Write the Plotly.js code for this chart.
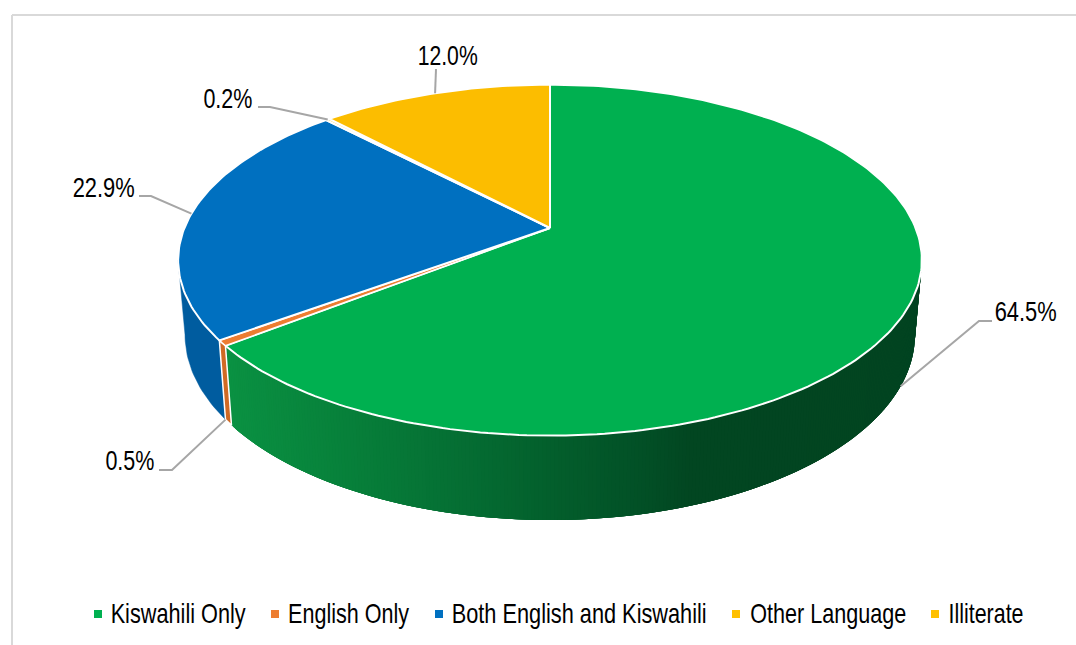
<!DOCTYPE html>
<html><head><meta charset="utf-8">
<script src="https://cdn.plot.ly/plotly-3.0.1.min.js"></script>
<style>html,body{margin:0;padding:0;background:#fff;overflow:hidden}#c{width:1076px;height:645px}</style>
</head><body><div id="c"></div>
<script>
const categories = ["Kiswahili Only","English Only","Both English and Kiswahili","Other Language","Illiterate"];
const values = [64.5,0.5,22.9,0.2,12.0];
const labels = ["64.5%","0.5%","22.9%","0.2%","12.0%"];
const colors = ["#00b050","#ed7d31","#0070c0","#ffc000","#fcbd00"];
const legendColors = ["#00b050","#ed7d31","#0070c0","#ffc000","#ffc000"];

// layout of the drawing, in pixels
const legendMarkerX = [98,275,439,736,935];
const legendTextX = [177.5,348,579,827.5,986];
const legendTextW = [135,121,255,156,75];
const legendMarkerY = 614;
const legendTextY = 613;
const labelX = [1025,130,103,228,447];
const labelW = [62,49,62,49,60];
const labelY = [311,460,187,98,55];
const elbowX = [979,172,151,270,436];
const elbowY = [321,470,196,107,69];
const stubX = [992,159,139,258,436];
const FONT = '"Liberation Sans",Arial,sans-serif';
const FONT_SIZE = 28;
const k = 0.1829;
const cx = 550;
const topDisc = {y:228,a:169.6,b:365.6};
const botDisc = {y:301,a:179,b:358.8};
const shadeX = [233,350,450,550,640,690,921];
const shadeR = [10,7,5,3,2,2,2];
const shadeG = [145,128,112,95,80,70,68];
const shadeB = [66,58,52,44,38,33,32];

const total = values.reduce((a,b)=>a+b,0);
function pt(d,deg){const t=deg*Math.PI/180,u=Math.sin(t),v=Math.cos(t),w=1+k*v;return [cx+d.b*u/w,d.y-d.a*v/w];}
function arc(d,a0,a1){const n=Math.max(2,Math.ceil(Math.abs(a1-a0)));const r=[];for(let i=0;i<=n;i++)r.push(pt(d,a0+(a1-a0)*i/n));return r;}
function poly(points,fill,lineColor,lineWidth){
  const c=points.concat([points[0]]);
  return {type:'scatter',mode:'lines',x:c.map(p=>p[0]),y:c.map(p=>p[1]),fill:'toself',fillcolor:fill,
    line:{color:lineColor,width:lineWidth},hoverinfo:'skip',showlegend:false};
}
function interp(xs,ys,x){if(x<=xs[0])return ys[0];for(let i=1;i<xs.length;i++)if(x<=xs[i])return ys[i-1]+(ys[i]-ys[i-1])*(x-xs[i-1])/(xs[i]-xs[i-1]);return ys[ys.length-1];}

const starts=[];let cum=0;
values.forEach(v=>{starts.push(cum/total*360);cum+=v;});
const ends=starts.map((s,i)=>s+values[i]/total*360);
const tanR=(Math.acos(-k))*180/Math.PI, tanL=360-tanR;

const traces=[];
// wall: green strips, each overlapping the next so no seams show
for(let a=ends[0];a>tanR;a-=0.5){
  const a2=Math.max(tanR,a-2);
  const p=arc(botDisc,a,a2).concat(arc(topDisc,a2,a));
  const b0=pt(botDisc,a), b1=pt(botDisc,a-0.5);
  const x=(b0[0]+b1[0])/2;
  const col=`rgb(${Math.round(interp(shadeX,shadeR,x))},${Math.round(interp(shadeX,shadeG,x))},${Math.round(interp(shadeX,shadeB,x))})`;
  traces.push(poly(p,col,col,0));
}
// wall: blue
traces.push(poly(arc(botDisc,starts[2],tanL).concat(arc(topDisc,tanL,starts[2])),"#005c9f","#005c9f",0.5));
// wall: orange
traces.push(poly(arc(botDisc,starts[1],ends[1]).concat(arc(topDisc,ends[1],starts[1])),"#d06a24","#ffffff",1.5));
// top faces
values.forEach((v,i)=>{
  const p=[[cx,topDisc.y]].concat(arc(topDisc,starts[i],ends[i]));
  traces.push(poly(p,colors[i],"#ffffff",i===1?1.5:2));
});
// leader lines, anchored on the slices
const mid=starts.map((s,i)=>(s+ends[i])/2);
const anchors=[pt(botDisc,mid[0]),pt(botDisc,ends[1]),pt(topDisc,mid[2]),pt(topDisc,mid[3]),pt(topDisc,mid[4])];
values.forEach((v,i)=>{
  traces.push({type:'scatter',mode:'lines',x:[stubX[i],elbowX[i],anchors[i][0]],y:[elbowY[i],elbowY[i],anchors[i][1]],
    line:{color:'#a6a6a6',width:2},hoverinfo:'skip',showlegend:false});
});
// legend markers
traces.push({type:'scatter',mode:'markers',x:legendMarkerX,y:legendMarkerX.map(()=>legendMarkerY),
  marker:{symbol:'square',size:8,color:legendColors,line:{width:0}},hoverinfo:'skip',showlegend:false});

const annotations=[];
const widths=[];
labels.forEach((t,i)=>{widths.push(labelW[i]);annotations.push({x:labelX[i],y:labelY[i],xref:'x',yref:'y',text:t,showarrow:false,
  xanchor:'center',yanchor:'middle',font:{family:FONT,size:FONT_SIZE,color:'#000'},borderpad:0,borderwidth:0});});
categories.forEach((t,i)=>{widths.push(legendTextW[i]);annotations.push({x:legendTextX[i],y:legendTextY,xref:'x',yref:'y',text:t,showarrow:false,
  xanchor:'center',yanchor:'middle',font:{family:FONT,size:FONT_SIZE,color:'#000'},borderpad:0,borderwidth:0});});

const frame=[[12,15,12,645],[12,15,1076,15]].map(s=>({type:'line',xref:'x',yref:'y',x0:s[0],y0:s[1],x1:s[2],y1:s[3],line:{color:'#d9d9d9',width:2},layer:'below'}));

Plotly.newPlot('c',traces,{
  width:1076,height:645,margin:{l:0,r:0,t:0,b:0},paper_bgcolor:'#fff',plot_bgcolor:'#fff',showlegend:false,
  xaxis:{range:[0,1076],visible:false,fixedrange:true},
  yaxis:{range:[645,0],visible:false,fixedrange:true},
  annotations,shapes:frame,hovermode:false
},{displayModeBar:false,staticPlot:true}).then(gd=>{
  // the reference uses a narrow face: condense each real text element to its measured width
  gd.querySelectorAll('.annotation-text').forEach((el,i)=>{
    el.setAttribute('textLength',widths[i]);
    el.setAttribute('lengthAdjust','spacingAndGlyphs');
  });
});
</script></body></html>
